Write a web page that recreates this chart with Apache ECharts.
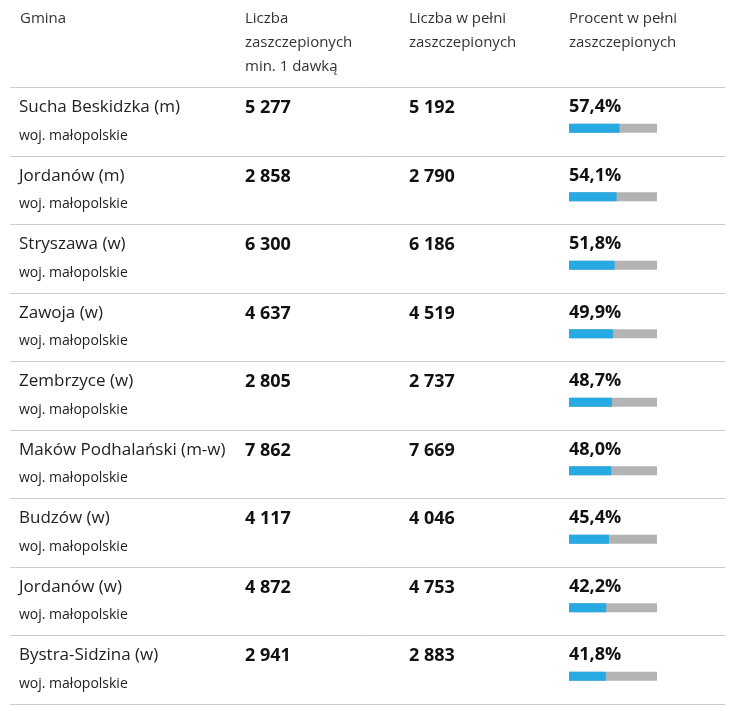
<!DOCTYPE html>
<html><head><meta charset="utf-8">
<script src="https://cdn.jsdelivr.net/npm/echarts@6/dist/echarts.min.js"></script>
<style>html,body{margin:0;padding:0;background:#fff}#main{width:735px;height:711px}</style>
</head><body><div id="main"></div>
<script>
var gminy = ['Sucha Beskidzka (m)','Jordanów (m)','Stryszawa (w)','Zawoja (w)','Zembrzyce (w)','Maków Podhalański (m-w)','Budzów (w)','Jordanów (w)','Bystra-Sidzina (w)'];
var woj = 'woj. małopolskie';
var dawka1 = ['5 277','2 858','6 300','4 637','2 805','7 862','4 117','4 872','2 941'];
var pelne = ['5 192','2 790','6 186','4 519','2 737','7 669','4 046','4 753','2 883'];
var procent = [57.4,54.1,51.8,49.9,48.7,48.0,45.4,42.2,41.8];
var naglowki = [['Gmina'],['Liczba','zaszczepionych','min. 1 dawką'],['Liczba w pełni','zaszczepionych'],['Procent w pełni','zaszczepionych']];

var kolX = [20, 245, 409, 569];
var top0 = 87, rowH = 68.5;
var font = '"Open Sans", sans-serif';
var graphic = [];
// naglowki
naglowki.forEach(function(h, i){
  h.forEach(function(t, j){
    graphic.push({type:'text', left:kolX[i], top:11 + j*24, style:{text:t, font:'15px ' + font, fill:'#333'}});
  });
});
// linie
for (var r = 0; r <= gminy.length; r++) {
  var y = Math.round(top0 + r*rowH) + 0.5;
  graphic.push({type:'line', shape:{x1:10, y1:y, x2:725, y2:y}, style:{stroke:'#ccc', lineWidth:1}});
}
gminy.forEach(function(g, i){
  var t = top0 + i*rowH;
  graphic.push({type:'text', left:19, top:t+12, style:{text:g, font:'17px ' + font, fill:'#222'}});
  graphic.push({type:'text', left:19, top:t+42, style:{text:woj, font:'14px ' + font, fill:'#222'}});
  graphic.push({type:'text', left:kolX[1], top:t+12, style:{text:dawka1[i], font:'bold 18px ' + font, fill:'#111'}});
  graphic.push({type:'text', left:kolX[2], top:t+12, style:{text:pelne[i], font:'bold 18px ' + font, fill:'#111'}});
  graphic.push({type:'text', left:kolX[3], top:t+11, style:{text:procent[i].toFixed(1).replace('.', ',') + '%', font:'bold 18px ' + font, fill:'#111'}});
});

var chart = echarts.init(document.getElementById('main'));
chart.setOption({
  animation:false,
  grid:{left:569, width:88, top:top0 + 7, height:rowH*gminy.length},
  xAxis:{type:'value', min:0, max:100, show:false},
  yAxis:{type:'category', data:gminy, inverse:true, show:false},
  series:[{
    type:'bar', data:procent, barWidth:9,
    itemStyle:{color:'#27a9e1'},
    showBackground:true, backgroundStyle:{color:'#b3b3b3'}
  }],
  graphic:graphic
});
</script></body></html>
